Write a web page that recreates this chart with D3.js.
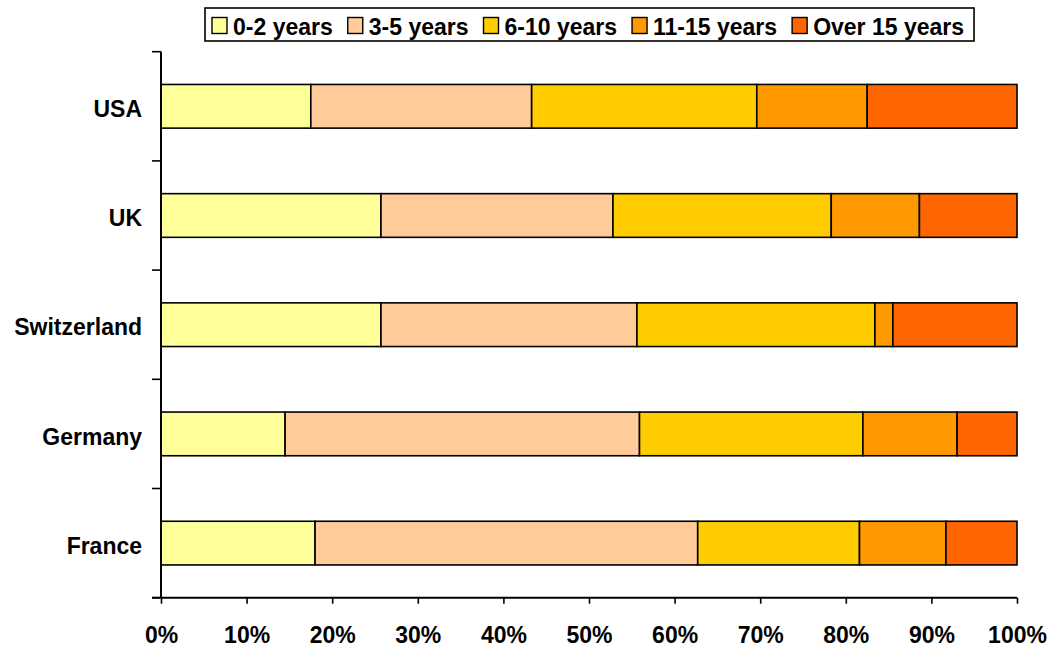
<!DOCTYPE html>
<html>
<head>
<meta charset="utf-8">
<script src="https://cdn.jsdelivr.net/npm/d3@7"></script>
<style>
  html, body { margin: 0; padding: 0; background: #fff; }
  svg { display: block; font-family: "Liberation Sans", Arial, sans-serif; font-weight: bold; }
</style>
</head>
<body>
<svg id="chart" width="1052" height="647"></svg>
<script>
// Countries, top to bottom
const countries = ["USA", "UK", "Switzerland", "Germany", "France"];

// Share of respondents (%) by length of experience, per country
const series = ["0-2 years", "3-5 years", "6-10 years", "11-15 years", "Over 15 years"];
const years0to2   = [17.5, 25.7, 25.7, 14.5, 18.0];
const years3to5   = [25.8, 27.1, 29.9, 41.4, 44.7];
const years6to10  = [26.3, 25.5, 27.8, 26.1, 18.9];
const years11to15 = [12.9, 10.3, 2.1, 11.0, 10.1];
const yearsOver15 = [17.5, 11.4, 14.5, 7.0, 8.3];

const xTicks = [0, 10, 20, 30, 40, 50, 60, 70, 80, 90, 100];
const colors = ["#FFFF99", "#FFCC99", "#FFCC00", "#FF9900", "#FF6600"];

const seriesValues = [years0to2, years3to5, years6to10, years11to15, yearsOver15];
const rows = countries.map((c, i) => {
  const r = { country: c };
  series.forEach((s, j) => { r[s] = seriesValues[j][i]; });
  return r;
});

const svg = d3.select("#chart");
const margin = { left: 161, right: 35, top: 51.7, bottom: 49.3 };
const W = 1052, H = 647;

const x = d3.scaleLinear().domain([0, 100]).range([margin.left, W - margin.right]);
const y = d3.scaleBand().domain(countries)
  .range([margin.top, H - margin.bottom])
  .paddingInner(0.6).paddingOuter(0.3);

const stacked = d3.stack().keys(series)(rows);
const color = d3.scaleOrdinal().domain(series).range(colors);

// Stacked bars
svg.append("g").selectAll("g")
  .data(stacked)
  .join("g")
  .attr("fill", d => color(d.key))
  .selectAll("rect")
  .data(d => d)
  .join("rect")
  .attr("x", d => x(d[0]))
  .attr("y", d => y(d.data.country))
  .attr("width", d => x(d[1]) - x(d[0]))
  .attr("height", y.bandwidth())
  .attr("stroke", "#000")
  .attr("stroke-width", 1.6);

// Bottom axis
const xAxis = svg.append("g")
  .attr("transform", `translate(0,${H - margin.bottom})`)
  .call(d3.axisBottom(x).tickValues(xTicks).tickFormat(d => d + "%").tickSize(6).tickSizeOuter(0));
xAxis.select(".domain").attr("stroke", "#000").attr("stroke-width", 2)
  .attr("d", `M${x(0) - 9},0H${x(100)}`);
xAxis.selectAll(".tick line").attr("stroke", "#000").attr("stroke-width", 1.6);
xAxis.selectAll(".tick text")
  .attr("fill", "#000")
  .attr("font-size", "23px")
  .attr("font-weight", "bold")
  .attr("font-family", "Liberation Sans, Arial, sans-serif")
  .attr("y", 0).attr("dy", 0)
  .attr("transform", "translate(0,45.5) scale(1,1.08)");

// Left axis with category labels
const yAxis = svg.append("g")
  .attr("transform", `translate(${margin.left},0)`)
  .call(d3.axisLeft(y).tickSize(0).tickPadding(19));
yAxis.select(".domain").attr("stroke", "#000").attr("stroke-width", 2)
  .attr("d", `M0,${margin.top}V${H - margin.bottom}`);
yAxis.selectAll(".tick text")
  .attr("fill", "#000")
  .attr("font-size", "23px")
  .attr("font-weight", "bold")
  .attr("font-family", "Liberation Sans, Arial, sans-serif")
  .attr("dy", 0)
  .attr("transform", "translate(0,10.7) scale(1,1.08)");

// Tick marks between categories
const step = y.step();
const bounds = d3.range(countries.length + 1).map(i => margin.top + i * step);
yAxis.selectAll("line.sep")
  .data(bounds)
  .join("line")
  .attr("class", "sep")
  .attr("x1", -9).attr("x2", 0)
  .attr("y1", d => d).attr("y2", d => d)
  .attr("stroke", "#000").attr("stroke-width", 1.6);

// Legend
const legend = svg.append("g");
const legendBox = legend.append("rect")
  .attr("x", 205).attr("y", 8).attr("height", 33)
  .attr("fill", "#fff").attr("stroke", "#000").attr("stroke-width", 1.6);
let lx = 212;
const itemGap = 15;
series.forEach((s, i) => {
  legend.append("rect")
    .attr("x", lx).attr("y", 17.5).attr("width", 15).attr("height", 16)
    .attr("fill", colors[i]).attr("stroke", "#000").attr("stroke-width", 1.4);
  const t = legend.append("text")
    .attr("x", lx + 21).attr("y", 34.5)
    .attr("font-size", "23px")
    .attr("fill", "#000")
    .text(s);
  lx += 21 + t.node().getComputedTextLength() + itemGap;
});
legendBox.attr("width", lx - itemGap + 10 - 205);
</script>
</body>
</html>
